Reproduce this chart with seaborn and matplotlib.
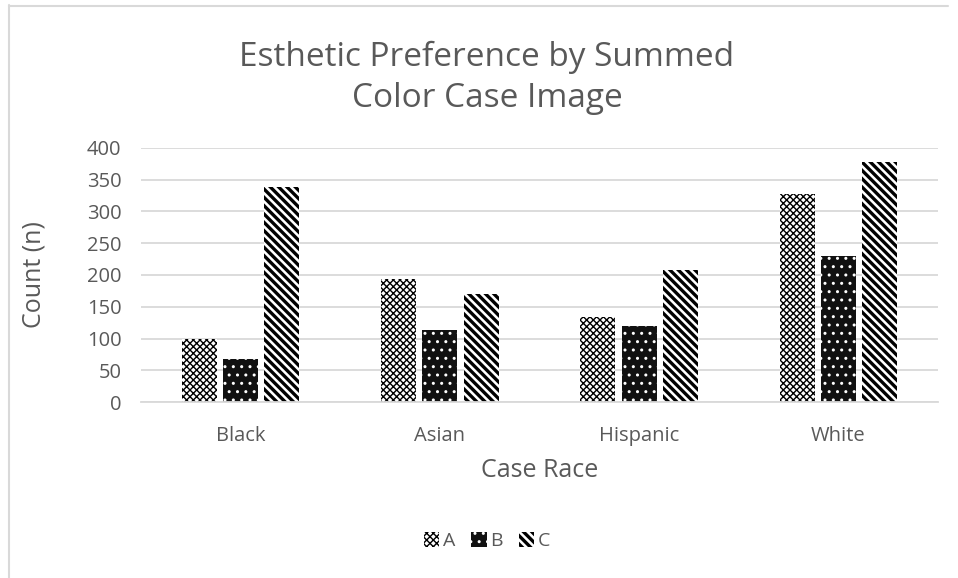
import matplotlib
matplotlib.use("Agg")
import matplotlib.pyplot as plt
from matplotlib.lines import Line2D
from matplotlib.patches import Patch
import pandas as pd
import seaborn as sns

races = ["Black", "Asian", "Hispanic", "White"]
groups = ["A", "B", "C"]
a_counts = [100, 193, 134, 328]
b_counts = [68, 113, 119, 230]
c_counts = [338, 170, 208, 378]
y_ticks = [0, 50, 100, 150, 200, 250, 300, 350, 400]

df = pd.DataFrame({
    "Case Race": races * 3,
    "Group": [g for g in groups for _ in races],
    "Count": a_counts + b_counts + c_counts,
})

sns.set_theme(style="white")
plt.rcParams["font.family"] = ["Open Sans", "DejaVu Sans"]
text_color = "#595959"

fig = plt.figure(figsize=(9.58, 5.78), dpi=100)
ax = fig.add_axes([141 / 958, 1 - 402 / 578, (938 - 141) / 958, 254 / 578])

sns.barplot(data=df, x="Case Race", y="Count", hue="Group", order=races,
            hue_order=groups, width=0.62, gap=0.15, ax=ax, legend=False,
            err_kws={"linewidth": 0})

styles = {
    "A": dict(facecolor="white", edgecolor="black", hatch="xxxxx", hlw=1.0),
    "B": dict(facecolor="#111111", edgecolor="white", hatch="..", hlw=1.0),
    "C": dict(facecolor="white", edgecolor="black", hatch="\\\\\\\\", hlw=2.4),
}
for container, g in zip(ax.containers, groups):
    st = styles[g]
    for bar in container:
        bar.set_facecolor(st["facecolor"])
        bar.set_edgecolor(st["edgecolor"])
        bar.set_hatch(st["hatch"])
        bar.set_linewidth(0)
        if hasattr(bar, "set_hatch_linewidth"):
            bar.set_hatch_linewidth(st["hlw"])

ax.set_ylim(0, 400)
ax.set_yticks(y_ticks)
ax.set_yticklabels([str(v) for v in y_ticks])
ax.set_xlim(-0.5, 3.5)
ax.yaxis.grid(True, color="#d9d9d9", linewidth=1.3)
ax.set_axisbelow(True)
for s in ["top", "right", "left"]:
    ax.spines[s].set_visible(False)
ax.spines["bottom"].set_color("#d9d9d9")
ax.spines["bottom"].set_linewidth(1.3)
ax.tick_params(axis="both", length=0, labelsize=14.5, labelcolor=text_color)
ax.tick_params(axis="y", pad=14)
ax.tick_params(axis="x", pad=17)
ax.set_xlabel("Case Race", fontsize=18, color=text_color, labelpad=9)
ax.set_ylabel("Count (n)", fontsize=18, color=text_color, labelpad=29)

fig.text(487 / 958, 1 - 78 / 578, "Esthetic Preference by Summed\nColor Case Image",
         ha="center", va="center", fontsize=24, color=text_color, linespacing=1.35)

handles = []
for g in groups:
    st = styles[g]
    p = Patch(facecolor=st["facecolor"], edgecolor=st["edgecolor"], hatch=st["hatch"],
              linewidth=0, label=g)
    handles.append(p)
leg = fig.legend(handles=handles, loc="center", bbox_to_anchor=(487 / 958, 1 - 541 / 578),
                 ncol=3, frameon=False, fontsize=14, handlelength=0.8, handleheight=0.8,
                 handletextpad=0.2, columnspacing=0.8, labelcolor=text_color)
for h, g in zip(leg.legend_handles, groups):
    if hasattr(h, "set_hatch_linewidth"):
        h.set_hatch_linewidth(styles[g]["hlw"])

# outer chart frame (left and top edges)
fig.add_artist(Line2D([8.5 / 958, 8.5 / 958], [0, 1 - 5 / 578], transform=fig.transFigure,
                      color="#d9d9d9", linewidth=1.5))
fig.add_artist(Line2D([8.5 / 958, 948 / 958], [1 - 5.5 / 578, 1 - 5.5 / 578],
                      transform=fig.transFigure, color="#d9d9d9", linewidth=1.5))

fig.savefig("out.png", dpi=100, facecolor="white")
